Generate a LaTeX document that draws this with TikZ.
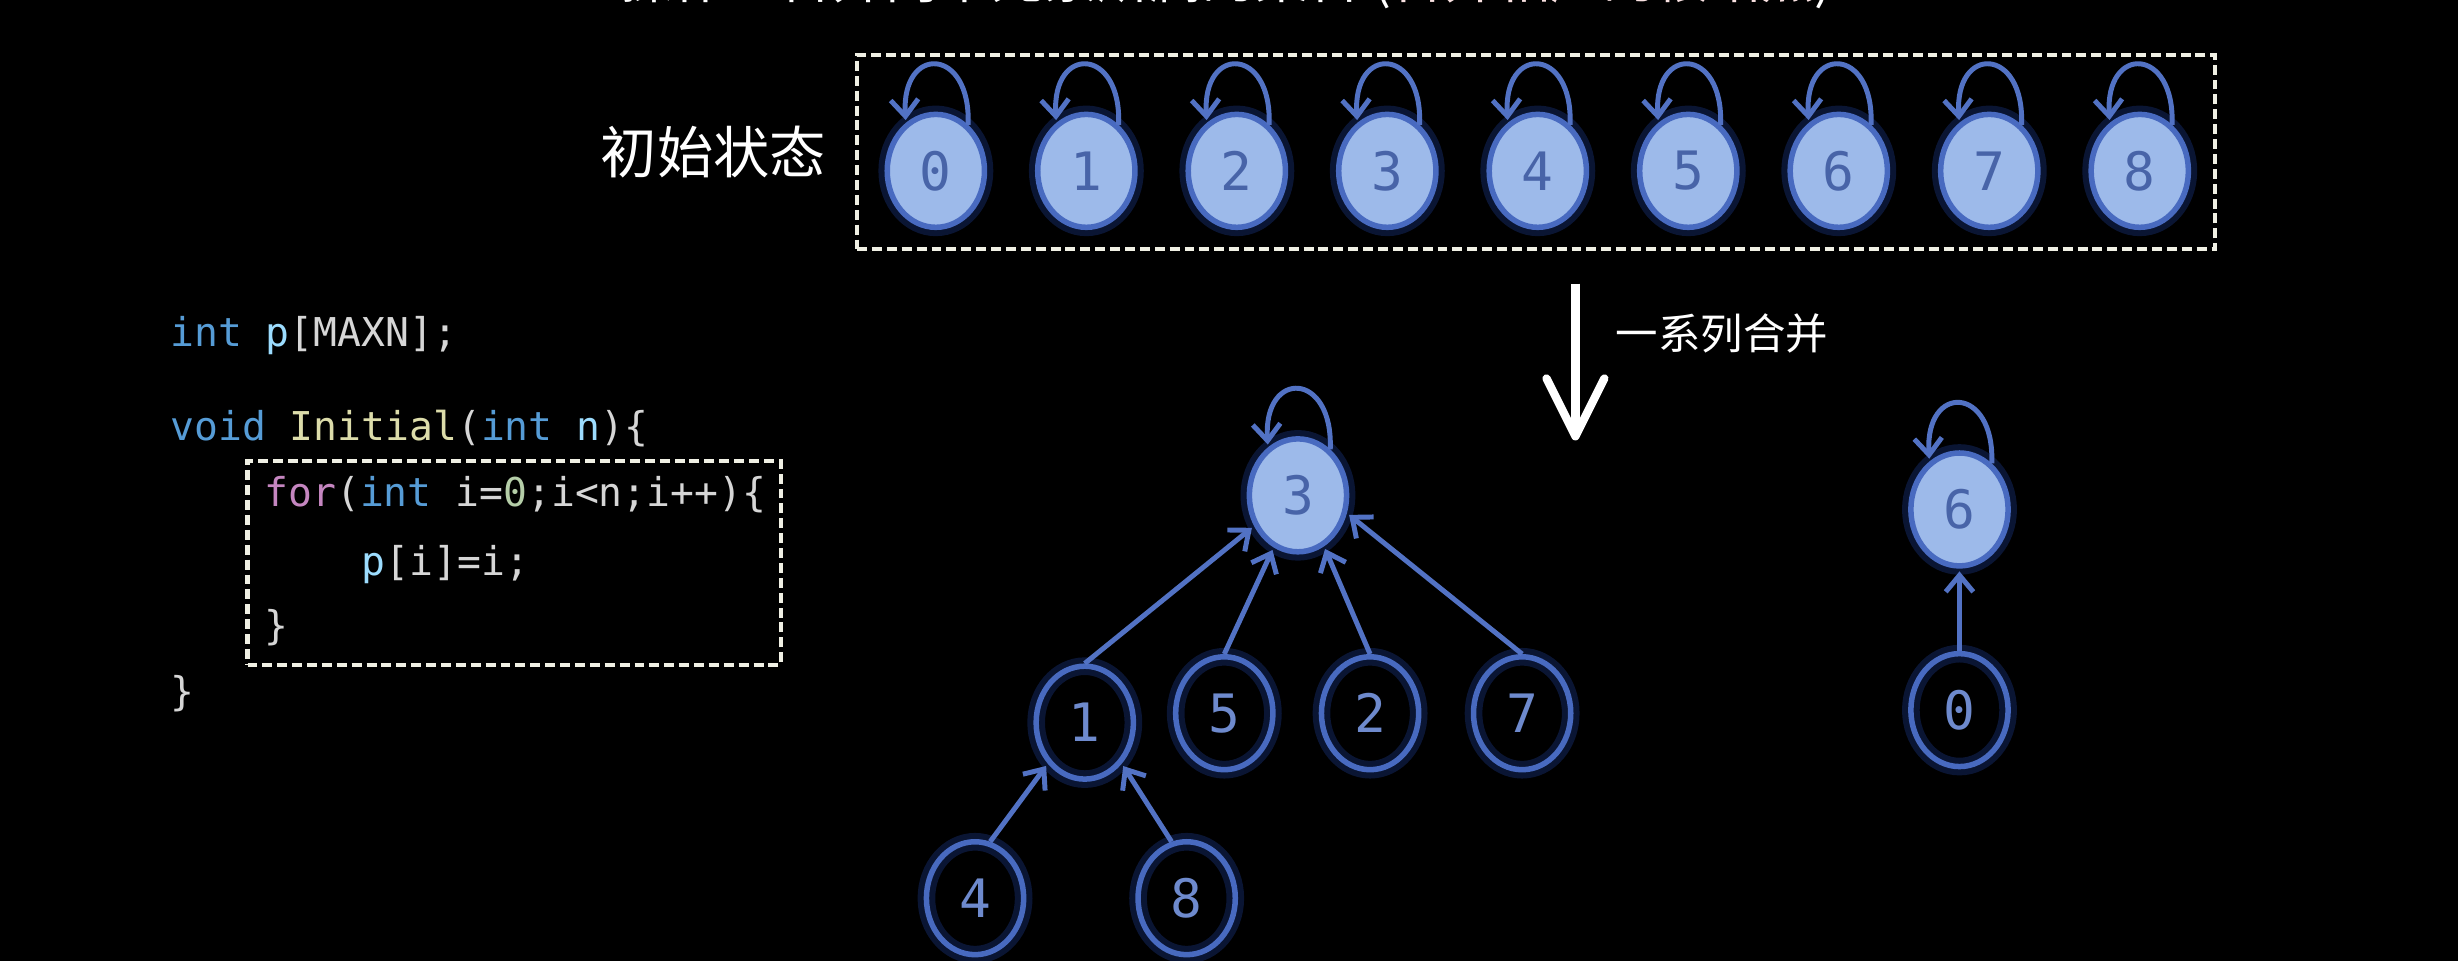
\documentclass[tikz,border=0pt]{standalone}
\usepackage{fontspec}
\setmainfont{DejaVu Sans}
\newfontfamily\cjk{Noto Sans CJK SC}
\newfontfamily\codefont{DejaVu Sans Mono}
\usetikzlibrary{shapes.geometric,arrows.meta}
\definecolor{nodefill}{RGB}{157,186,234}
\definecolor{nodeline}{RGB}{72,106,192}
\definecolor{glowc}{RGB}{35,70,170}
\definecolor{digitdark}{RGB}{72,100,168}
\definecolor{digitlight}{RGB}{110,138,205}
\definecolor{edgec}{RGB}{82,114,196}
\definecolor{boxc}{RGB}{240,240,228}
\definecolor{kw}{RGB}{86,156,214}
\definecolor{var}{RGB}{156,220,254}
\definecolor{fn}{RGB}{220,220,170}
\definecolor{ctrl}{RGB}{197,134,192}
\definecolor{num}{RGB}{181,206,168}
\definecolor{codeplain}{RGB}{214,214,214}
\definecolor{titlered}{RGB}{150,80,80}
\definecolor{titlepink}{RGB}{250,226,226}
\begin{document}
\begin{tikzpicture}[x=0.01cm,y=-0.01cm,
  setnode/.style={ellipse, minimum width=0.62cm, minimum height=0.72cm, inner sep=0pt,
    draw=nodeline, line width=1pt,
    preaction={draw=glowc, line width=3.2pt, opacity=0.3},
    font=\codefont\fontsize{9.6pt}{10pt}\selectfont},
  fnode/.style={setnode, fill=nodefill, text=digitdark},
  onode/.style={setnode, text=digitlight},
  edgeline/.style={draw=edgec, line width=0.9pt, -{Straight Barb[length=3pt,width=5pt]}, shorten >=0.5pt},
  selfloop/.style={edgeline},
  dbox/.style={draw=boxc, line width=0.75pt, dash pattern=on 1.8pt off 0.9pt, inner sep=0pt},
  codeline/.style={anchor=base west, inner sep=0pt, text=codeplain, font=\codefont\fontsize{7.2pt}{8pt}\selectfont},
  bigarrow/.style={draw=white, line width=1.5pt, -{Straight Barb[length=10.5pt,width=10.5pt,round]}}
]
\fill[black] (0,0) rectangle (1568,613);
\useasboundingbox (0,0) rectangle (1568,613);

% clipped title (cut by the top edge, as in the reference)
\begin{scope}
\clip (0,0) rectangle (1568,613);
\node[anchor=base west, inner sep=0pt, text=white, font=\cjk\fontsize{9.6pt}{10pt}\selectfont] (title) at (300,-1)
  {\textcolor{titlered}{Union}操作：合并两个元素所属的集合 (\textcolor{titlepink}{合并相应的根结点})};
\end{scope}

% initial state
\node[dbox, minimum width=8.66cm, minimum height=1.24cm] (topbox) at (980,97) {};
\node[text=white, font=\cjk\fontsize{10.2pt}{12pt}\selectfont, inner sep=0pt] (initlab) at (455,97) {初始状态};

\foreach \i/\x in {0/597,1/693,2/789,3/885,4/981,5/1077,6/1173,7/1269,8/1365}{
  \node[fnode] (a\i) at (\x,109) {\i};
  \draw[selfloop] (a\i.55) .. controls +(0.02cm,0.5cm) and +(-0.03cm,0.5cm) .. (a\i.122);
}

% code
\node[codeline] (c1) at (108,221) {\textcolor{kw}{int} \textcolor{var}{p}[MAXN];};
\node[codeline] (c2) at (108,281) {\textcolor{kw}{void} \textcolor{fn}{Initial}(\textcolor{kw}{int} \textcolor{var}{n})\{};
\node[codeline] (c3) at (168,323) {\textcolor{ctrl}{for}(\textcolor{kw}{int} i=\textcolor{num}{0};i<n;i++)\{};
\node[codeline] (c4) at (230,367) {\textcolor{var}{p}[i]=i;};
\node[codeline] (c5) at (168,408) {\}};
\node[codeline] (c6) at (108,450) {\}};
\node[dbox, minimum width=3.40cm, minimum height=1.30cm] (codebox) at (328,359) {};

% big arrow
\coordinate (arrS) at (1005,181);
\coordinate (arrE) at (1005,281);
\draw[bigarrow] (arrS) -- (arrE);
\node[anchor=west, inner sep=0pt, text=white, font=\cjk\fontsize{7.7pt}{9pt}\selectfont] (merge) at (1030,213) {一系列合并};

% trees
\node[fnode] (t3) at (828,316) {3};
\node[onode] (t1) at (692,461) {1};
\node[onode] (t5) at (781,455) {5};
\node[onode] (t2) at (874,455) {2};
\node[onode] (t7) at (971,455) {7};
\node[onode] (t4) at (622,573) {4};
\node[onode] (t8) at (757,573) {8};
\node[fnode] (t6) at (1250,325) {6};
\node[onode] (t0) at (1250,453) {0};

\draw[selfloop] (t3.55) .. controls +(0.02cm,0.5cm) and +(-0.03cm,0.5cm) .. (t3.122);
\draw[selfloop] (t6.55) .. controls +(0.02cm,0.5cm) and +(-0.03cm,0.5cm) .. (t6.122);

\draw[edgeline] (t1.north) -- (t3.215);
\draw[edgeline] (t5.north) -- (t3.245);
\draw[edgeline] (t2.north) -- (t3.297);
\draw[edgeline] (t7.north) -- (t3.340);
\draw[edgeline] (t4.75) -- (t1.228);
\draw[edgeline] (t8.105) -- (t1.312);
\draw[edgeline] (t0.north) -- (t6.south);
\end{tikzpicture}
\end{document}
